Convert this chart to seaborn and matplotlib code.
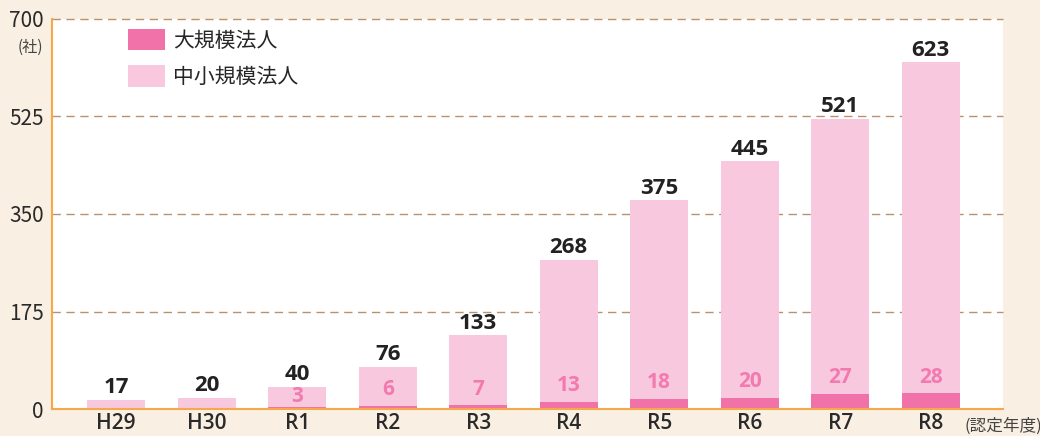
import matplotlib
matplotlib.use("Agg")
import numpy as np
import matplotlib.pyplot as plt
import seaborn as sns

# data
years = ["H29", "H30", "R1", "R2", "R3", "R4", "R5", "R6", "R7", "R8"]
totals = [17, 20, 40, 76, 133, 268, 375, 445, 521, 623]
large = [0, 0, 3, 6, 7, 13, 18, 20, 27, 28]
small = [t - l for t, l in zip(totals, large)]
yticks = [0, 175, 350, 525, 700]

LARGE_C = "#f072a9"
SMALL_C = "#f8c9de"
BG = "#f9f0e3"
SPINE_C = "#f7a84a"
GRID_C = "#b8916e"

sns.set_theme(style="white")
plt.rcParams['font.family'] = ['Noto Sans CJK JP', 'DejaVu Sans']

fig = plt.figure(figsize=(10.4, 4.36), dpi=100, facecolor=BG)
ax = fig.add_axes([52 / 1040, 27 / 436, 951 / 1040, 390 / 436])
ax.set_facecolor("white")

sns.barplot(x=years, y=large, color=LARGE_C, saturation=1, width=0.64,
            linewidth=0, label="大規模法人", ax=ax, zorder=3)
sns.barplot(x=years, y=small, bottom=large, color=SMALL_C, saturation=1,
            width=0.64, linewidth=0, label="中小規模法人", ax=ax, zorder=3)

ax.set_xlim(-0.71, 9.8)
ax.set_ylim(0, 700)
ax.set_yticks(yticks)
ax.set_yticklabels([str(v) for v in yticks], fontsize=15, color="#2a2a2a")
ax.tick_params(axis="y", length=0, pad=6)
ax.tick_params(axis="x", length=0, pad=3)
ax.set_xticks(range(len(years)))
ax.set_xticklabels(years, fontsize=15, color="#2a2a2a", fontweight="semibold",
                   family=["Open Sans", "DejaVu Sans"])
ax.set_xlabel("")
ax.set_ylabel("")

for v in yticks[1:]:
    ax.axhline(v, color=GRID_C, lw=1, ls=(0, (6, 4)), zorder=1, clip_on=False)

for s in ["top", "right"]:
    ax.spines[s].set_visible(False)
ax.spines["left"].set_color(SPINE_C)
ax.spines["bottom"].set_color(SPINE_C)
ax.spines["left"].set_linewidth(1.5)
ax.spines["bottom"].set_linewidth(1.5)
ax.spines["bottom"].set_zorder(4)

for i, t in enumerate(totals):
    ax.annotate(str(t), (i, t), xytext=(0, 1), textcoords="offset points",
                ha="center", va="bottom", fontsize=16, fontweight="bold",
                color="#222222", family=["Open Sans", "DejaVu Sans"])
for i, l in enumerate(large):
    if l == 0:
        continue
    off = 4 if l > 5 else 0
    ax.annotate(str(l), (i, l), xytext=(0, off), textcoords="offset points",
                ha="center", va="bottom", fontsize=15, fontweight="bold",
                color="#f27aae", family=["Open Sans", "DejaVu Sans"], zorder=5)

ax.legend(loc="upper left", bbox_to_anchor=(76 / 951, 1 - 10 / 390),
          frameon=False, fontsize=15, handlelength=1.76, handleheight=1.2,
          labelspacing=0.65, handletextpad=0.4, borderpad=0, borderaxespad=0)

fig.text(30 / 1040, 1 - 47 / 436, "(社)", ha="center", va="center",
         fontsize=11, color="#444444")
fig.text(964 / 1040, 1 - 426 / 436, "(認定年度)", ha="left", va="center",
         fontsize=12, color="#444444")

fig.savefig("out.png", dpi=100, facecolor=BG)
